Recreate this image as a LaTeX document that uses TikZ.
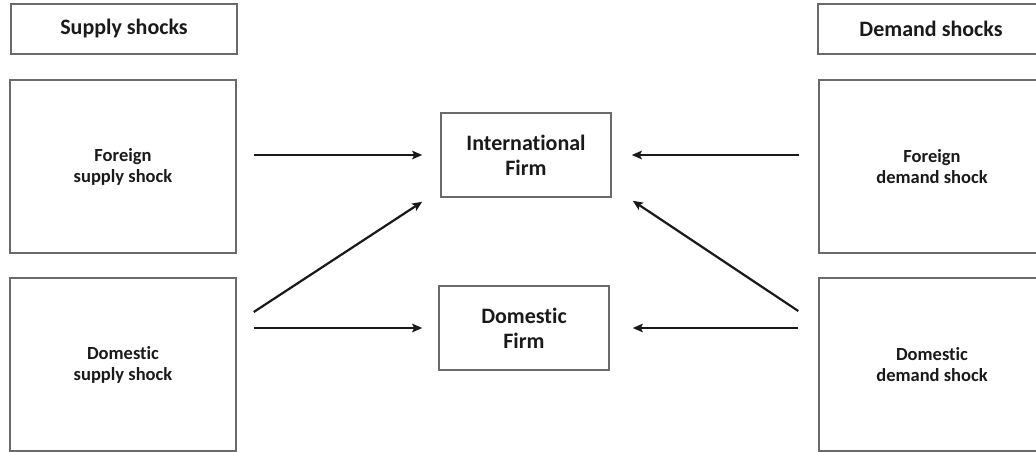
\documentclass[tikz,border=0pt]{standalone}
\usepackage{fontspec}
\setmainfont[Ligatures=CommonOff]{Carlito}
\usetikzlibrary{arrows.meta}
\definecolor{boxline}{HTML}{6A6A6A}
\definecolor{txt}{HTML}{1A1A1A}
\tikzset{
  hdr/.style={draw=boxline, line width=1.5pt, minimum width=226pt, minimum height=50pt, inner sep=0pt, font=\bfseries\fontsize{22}{25}\selectfont, text=txt},
  shockbox/.style={draw=boxline, line width=1.5pt, minimum width=226pt, minimum height=173pt, inner sep=0pt, align=center, font=\bfseries\fontsize{18.5}{21}\selectfont, text=txt},
  firmbox/.style={draw=boxline, line width=1.5pt, minimum width=170pt, minimum height=84pt, inner sep=0pt, align=center, font=\bfseries\fontsize{22}{25}\selectfont, text=txt},
  conn/.style={line width=2.2pt, draw=black!90, -{Stealth[length=10pt,width=8.5pt,inset=2pt]}}
}
\begin{document}
\begin{tikzpicture}[x=1pt,y=-1pt]
\useasboundingbox (0,0) rectangle (1036,452);
\clip (0,0) rectangle (1036,452);
\node[hdr] (sh) at (124,29) {Supply shocks};
\node[hdr] (dh) at (931,29) {Demand shocks};
\node[shockbox] (fs) at (123,166.5) {Foreign\\supply shock};
\node[shockbox] (ds) at (123,364.5) {Domestic\\supply shock};
\node[shockbox] (fd) at (932,166.5) {Foreign\\demand shock};
\node[shockbox] (dd) at (932,364.5) {Domestic\\demand shock};
\node[firmbox] (int) at (526,155) {International\\Firm};
\node[firmbox] (df) at (524,328) {Domestic\\Firm};
\draw[conn] ([xshift=17pt]fs.east |- int.west) -- ([xshift=-18pt]int.west);
\draw[conn] ([shift={(17,-52.5)}]ds.east) -- ([shift={(-18,4)}]int.south west);
\draw[conn] ([xshift=17pt]ds.east |- df.west) -- ([xshift=-16pt]df.west);
\draw[conn] ([xshift=-19pt]fd.west |- int.east) -- ([xshift=20pt]int.east);
\draw[conn] ([shift={(-20,-53.5)}]dd.west) -- ([shift={(21,3)}]int.south east);
\draw[conn] ([xshift=-20pt]dd.west |- df.east) -- ([xshift=23pt]df.east);
\end{tikzpicture}
\end{document}
